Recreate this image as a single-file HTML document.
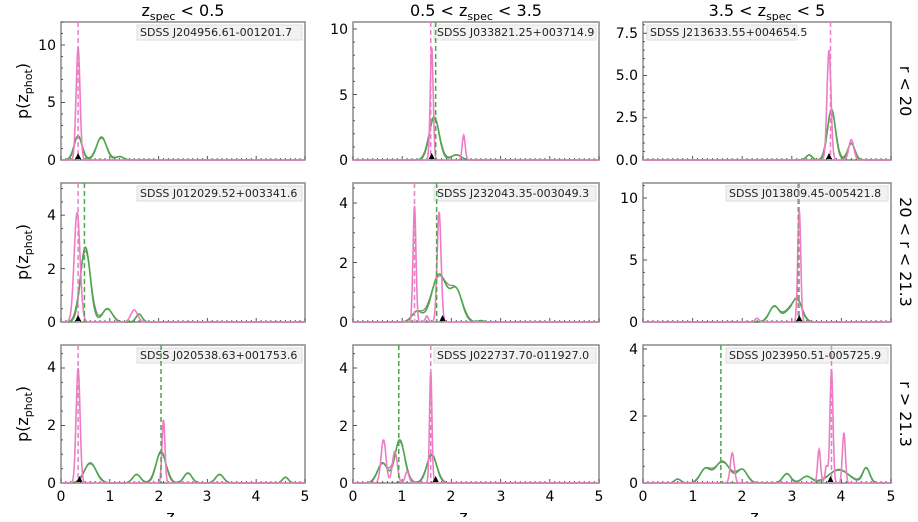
<!DOCTYPE html>
<html><head><meta charset="utf-8"><style>
html,body{margin:0;padding:0;background:#fff;}
body{width:918px;height:517px;overflow:hidden;font-family:"Liberation Sans","DejaVu Sans",sans-serif;}
</style></head><body>
<svg id="s" width="918" height="517" viewBox="0 0 918 517" xmlns="http://www.w3.org/2000/svg" font-family="'DejaVu Sans','Liberation Sans',sans-serif">
<g font-size="16" text-anchor="middle" fill="#000">
<text x="183" y="16">z<tspan font-size="11" dy="4">spec</tspan><tspan dy="-4"> &lt; 0.5</tspan></text>
<text x="476" y="16">0.5 &lt; z<tspan font-size="11" dy="4">spec</tspan><tspan dy="-4"> &lt; 3.5</tspan></text>
<text x="767" y="16">3.5 &lt; z<tspan font-size="11" dy="4">spec</tspan><tspan dy="-4"> &lt; 5</tspan></text>
<text transform="translate(900,91) rotate(90)">r &lt; 20</text>
<text transform="translate(900,252) rotate(90)">20 &lt; r &lt; 21.3</text>
<text transform="translate(900,414) rotate(90)">r &gt; 21.3</text>
<text transform="translate(28,91) rotate(-90)">p(z<tspan font-size="11" dy="4">phot</tspan><tspan dy="-4">)</tspan></text>
<text transform="translate(28,252) rotate(-90)">p(z<tspan font-size="11" dy="4">phot</tspan><tspan dy="-4">)</tspan></text>
<text transform="translate(28,414) rotate(-90)">p(z<tspan font-size="11" dy="4">phot</tspan><tspan dy="-4">)</tspan></text>
<text x="183" y="522">z<tspan font-size="11" dy="4">phot</tspan></text>
<text x="476" y="522">z<tspan font-size="11" dy="4">phot</tspan></text>
<text x="767" y="522">z<tspan font-size="11" dy="4">phot</tspan></text>
</g>
<g font-size="11" fill="#222">
<rect x="137" y="25" width="165" height="15" fill="#f2f2f2" stroke="#ddd"/><text x="140" y="36">SDSS J204956.61-001201.7</text>
<rect x="434" y="25" width="162" height="15" fill="#f2f2f2" stroke="#ddd" opacity="0.9"/><text x="437" y="36">SDSS J033821.25+003714.9</text>
<rect x="647" y="25" width="150" height="15" fill="#f2f2f2" stroke="#ddd"/><text x="650" y="36">SDSS J213633.55+004654.5</text>
<rect x="137" y="186" width="165" height="15" fill="#f2f2f2" stroke="#ddd"/><text x="140" y="197">SDSS J012029.52+003341.6</text>
<rect x="434" y="186" width="162" height="15" fill="#f2f2f2" stroke="#ddd"/><text x="437" y="197">SDSS J232043.35-003049.3</text>
<rect x="726" y="186" width="162" height="15" fill="#f2f2f2" stroke="#ddd"/><text x="729" y="197">SDSS J013809.45-005421.8</text>
<rect x="137" y="348" width="165" height="15" fill="#f2f2f2" stroke="#ddd"/><text x="140" y="359">SDSS J020538.63+001753.6</text>
<rect x="434" y="348" width="162" height="15" fill="#f2f2f2" stroke="#ddd"/><text x="437" y="359">SDSS J022737.70-011927.0</text>
<rect x="726" y="348" width="162" height="15" fill="#f2f2f2" stroke="#ddd"/><text x="729" y="359">SDSS J023950.51-005725.9</text>
</g>
<g id="yl" font-size="14" text-anchor="end" fill="#000">
<text x="56" y="165">0</text><text x="56" y="107">5</text><text x="56" y="50">10</text>
<text x="348" y="165">0</text><text x="348" y="100">5</text><text x="348" y="34">10</text>
<text x="638" y="165">0.0</text><text x="638" y="122">2.5</text><text x="638" y="80">5.0</text><text x="638" y="38">7.5</text>
<text x="56" y="327">0</text><text x="56" y="274">2</text><text x="56" y="220">4</text>
<text x="348" y="327">0</text><text x="348" y="268">2</text><text x="348" y="208">4</text>
<text x="638" y="327">0</text><text x="638" y="265">5</text><text x="638" y="203">10</text>
<text x="56" y="488">0</text><text x="56" y="430">2</text><text x="56" y="372">4</text>
<text x="348" y="488">0</text><text x="348" y="431">2</text><text x="348" y="373">4</text>
<text x="638" y="488">0</text><text x="638" y="421">2</text><text x="638" y="354">4</text>
</g>
<g font-size="14" text-anchor="middle" fill="#000">
<text x="61" y="501">0</text><text x="110" y="501">1</text><text x="159" y="501">2</text><text x="207" y="501">3</text><text x="256" y="501">4</text><text x="305" y="501">5</text>
<text x="353" y="501">0</text><text x="402" y="501">1</text><text x="451" y="501">2</text><text x="501" y="501">3</text><text x="550" y="501">4</text><text x="599" y="501">5</text>
<text x="643" y="501">0</text><text x="693" y="501">1</text><text x="742" y="501">2</text><text x="792" y="501">3</text><text x="841" y="501">4</text><text x="891" y="501">5</text>
</g>
<g id="plots"></g>
</svg>
<script>
var P=[
{x0:61,x1:305,t:22,b:160,k:11.5,maj:5,mn:1,ymax:12,
 p:[[0.35,9.8,0.04]],g:[[0.35,2.1,0.08],[0.83,2.0,0.1],[1.2,0.3,0.08]],dp:0.35,dg:null,tri:0.35},
{x0:353,x1:599,t:22,b:160,k:13.1,maj:5,mn:1,ymax:10.5,
 p:[[1.6,8.6,0.03],[2.25,1.9,0.03]],g:[[1.65,3.3,0.1],[2.1,0.4,0.1]],dp:1.58,dg:1.68,tri:1.6},
{x0:643,x1:891,t:22,b:160,k:16.9,maj:2.5,mn:0.5,ymax:8.1,
 p:[[3.75,6.5,0.04],[4.2,1.2,0.05]],g:[[3.8,3,0.08],[4.2,1.0,0.07],[3.35,0.3,0.06]],dp:3.78,dg:null,tri:3.75},
{x0:61,x1:305,t:183,b:322,k:26.7,maj:2,mn:0.5,ymax:5.2,
 p:[[0.33,4.1,0.06],[1.5,0.45,0.07]],g:[[0.5,2.8,0.1],[0.95,0.5,0.1],[1.6,0.3,0.06]],dp:0.35,dg:0.48,tri:0.35},
{x0:353,x1:599,t:183,b:322,k:29.75,maj:2,mn:0.5,ymax:4.67,
 p:[[1.25,3.9,0.03],[1.75,3.7,0.04],[1.5,0.2,0.03]],g:[[1.75,1.6,0.15],[2.1,1.05,0.12],[1.3,0.35,0.1],[2.6,0.05,0.05]],dp:1.25,dg:1.7,tri:1.82},
{x0:643,x1:891,t:183,b:322,k:12.4,maj:5,mn:1,ymax:11.2,
 p:[[3.15,9,0.03],[2.3,0.3,0.04]],g:[[2.65,1.3,0.1],[3.1,1.9,0.1],[2.9,0.6,0.08]],dp:3.15,dg:3.13,tri:3.15},
{x0:61,x1:305,t:345,b:483,k:28.75,maj:2,mn:0.5,ymax:4.8,
 p:[[0.35,4,0.04],[2.1,2.2,0.03]],g:[[0.6,0.7,0.12],[2.05,1.1,0.1],[1.55,0.3,0.08],[2.6,0.35,0.08],[3.25,0.3,0.08],[4.6,0.2,0.06]],dp:0.35,dg:2.05,tri:0.38},
{x0:353,x1:599,t:345,b:483,k:28.75,maj:2,mn:0.5,ymax:4.8,
 p:[[0.62,1.5,0.05],[0.85,1.1,0.05],[1.1,0.4,0.04],[1.58,3.9,0.025]],g:[[0.6,0.7,0.1],[0.95,1.5,0.1],[1.6,1.0,0.1]],dp:1.58,dg:0.93,tri:1.68},
{x0:643,x1:891,t:345,b:483,k:33.5,maj:2,mn:0.5,ymax:4.1,
 p:[[3.8,3.4,0.03],[4.05,1.5,0.03],[3.55,1.0,0.03],[1.8,0.9,0.04],[3.7,0.5,0.03]],g:[[1.6,0.65,0.15],[1.25,0.4,0.1],[2.0,0.4,0.1],[0.7,0.12,0.06],[2.9,0.28,0.08],[3.3,0.2,0.1],[3.95,0.4,0.2],[4.5,0.45,0.07]],dp:3.8,dg:1.57,tri:3.78}
];
var out='';
function path(pn,gs,col,w){
 var d='';for(var i=0;i<=600;i++){var z=5*i/600,v=0;for(var j=0;j<gs.length;j++){var g=gs[j];v+=g[1]*Math.exp(-0.5*Math.pow((z-g[0])/g[2],2));}
 var X=pn.x0+(pn.x1-pn.x0)*z/5,Y=pn.b-v*pn.k;d+=(i?'L':'M')+X.toFixed(1)+' '+Y.toFixed(1);}
 return '<path d="'+d+'" fill="none" stroke="'+col+'" stroke-width="'+w+'"/>';}
P.forEach(function(pn){
 var sx=function(z){return pn.x0+(pn.x1-pn.x0)*z/5;};
 out+='<rect x="'+pn.x0+'" y="'+pn.t+'" width="'+(pn.x1-pn.x0)+'" height="'+(pn.b-pn.t)+'" fill="none" stroke="#8a8a8a" stroke-width="1.5"/>';
 for(var z=0;z<=5.001;z+=0.1){var X=sx(z),maj=Math.abs(z-Math.round(z))<0.01;out+='<line x1="'+X+'" x2="'+X+'" y1="'+pn.b+'" y2="'+(pn.b-(maj?4:2))+'" stroke="#555"/>';}
 for(var y=0;y<=pn.ymax;y+=pn.mn){var Y=pn.b-y*pn.k,maj=Math.abs(y/pn.maj-Math.round(y/pn.maj))<0.01;out+='<line x1="'+pn.x0+'" x2="'+(pn.x0+(maj?4:2))+'" y1="'+Y+'" y2="'+Y+'" stroke="#555"/>';}
 out+=path(pn,pn.g.map(function(g){return [g[0],g[1]*0.95,g[2]*1.1]}),'#8c7f7f',1.2);
 out+=path(pn,pn.g,'#4aa84a',1.6);
 out+=path(pn,pn.p,'#ec7dc4',1.6);
 if(pn.dg!==null)out+='<line x1="'+sx(pn.dg)+'" x2="'+sx(pn.dg)+'" y1="'+pn.t+'" y2="'+pn.b+'" stroke="#4aa84a" stroke-width="1.5" stroke-dasharray="5,3"/>';
 out+='<line x1="'+sx(pn.dp)+'" x2="'+sx(pn.dp)+'" y1="'+pn.t+'" y2="'+pn.b+'" stroke="#ec7dc4" stroke-width="1.5" stroke-dasharray="5,3"/>';
 var T=sx(pn.tri);out+='<polygon points="'+(T-3)+','+(pn.b-1)+' '+(T+3)+','+(pn.b-1)+' '+T+','+(pn.b-7)+'" fill="#000"/>';
});
document.getElementById('plots').innerHTML=out;
</script>
</body></html>
